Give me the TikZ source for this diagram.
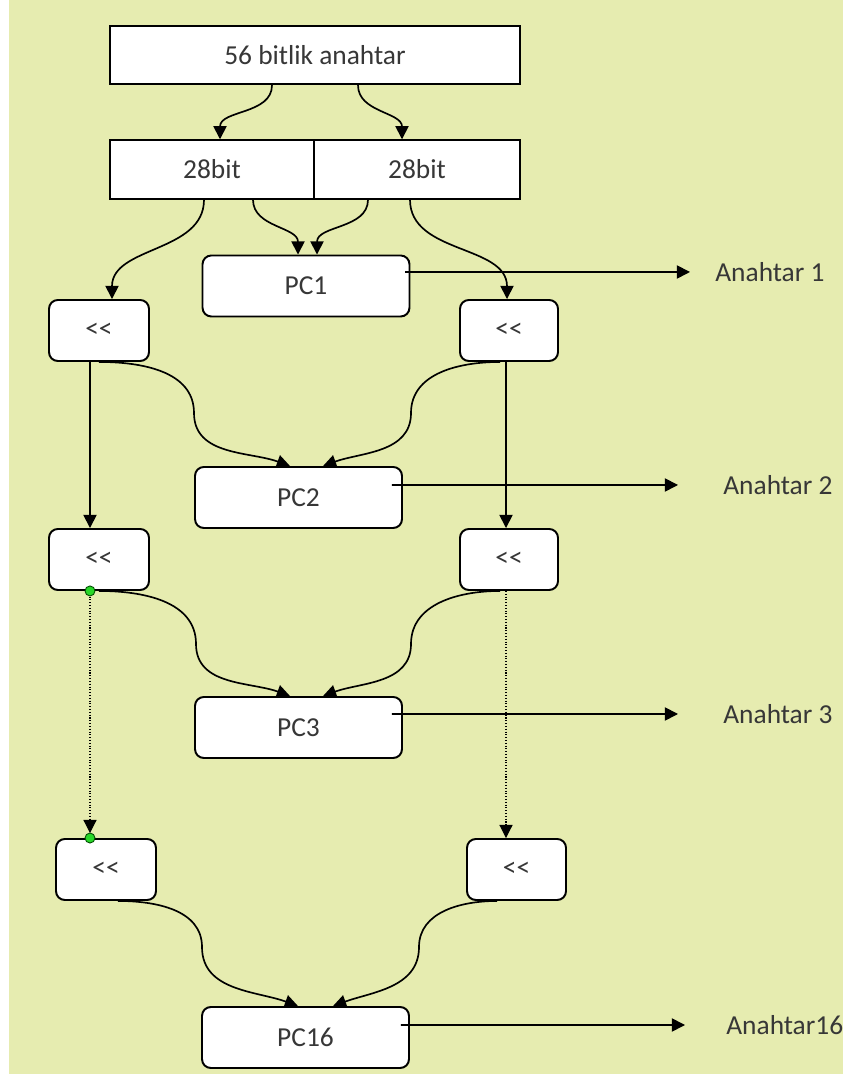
\documentclass[tikz,border=0pt]{standalone}
\usepackage{fontspec}
\setmainfont{Carlito}
\usepackage{xcolor}
\usetikzlibrary{arrows.meta,calc,positioning,shapes}
\definecolor{bgyellow}{RGB}{230,236,176}
\definecolor{txtgray}{RGB}{55,55,55}
\definecolor{dotgreen}{RGB}{40,215,40}
\tikzset{%
	keybox/.style   = {draw, rectangle, fill=white, line width=1.1pt, minimum height=1.17cm, text=txtgray, text centered},
	pcbox/.style    = {draw, rectangle, rounded corners=5pt, fill=white, line width=1.1pt, minimum width=4.14cm, minimum height=1.22cm, text=txtgray, text centered},
	shiftbox/.style = {draw, rectangle, rounded corners=5pt, fill=white, line width=1.1pt, minimum width=2cm, minimum height=1.22cm, text=txtgray, text centered},
	outlabel/.style = {anchor=west, inner sep=0pt, text=txtgray},
	arrow/.style    = {line width=0.95pt, -{Triangle[length=7.5pt,width=7.5pt]}},
	dotarrow/.style = {arrow, line width=0.6pt, densely dotted},
	greendot/.style = {circle, draw=black!70!green, fill=dotgreen, line width=0.5pt, inner sep=0pt, minimum size=0.2cm},
}
\begin{document}
\begin{tikzpicture}[x=0.02cm, y=0.02cm, font=\fontsize{15.6}{18}\selectfont]
	\useasboundingbox (0,0) rectangle (843,1074);
	\fill[bgyellow] (9,0) rectangle (843,1074);  % background

	% key and its two halves
	\node[keybox, minimum width=8.2cm] (key) at (315,1019) {56 bitlik anahtar};
	\node[keybox, minimum width=4.08cm] (halfL) at (212,904.5) {28bit};
	\node[keybox, minimum width=4.12cm] (halfR) at (417,904.5) {28bit};

	% permuted choice boxes
	\node[pcbox] (pc1) at (306,788) {PC1};
	\node[pcbox] (pc2) at (298.5,576.5) {PC2};
	\node[pcbox] (pc3) at (298.5,346.5) {PC3};
	\node[pcbox] (pc16) at (305.5,36.5) {PC16};

	% shift boxes
	\node[shiftbox] (sl1) at (99,743.5) {<{}<};
	\node[shiftbox, minimum width=1.96cm] (sr1) at (509,743.5) {<{}<};
	\node[shiftbox] (sl2) at (99,514.5) {<{}<};
	\node[shiftbox, minimum width=1.96cm] (sr2) at (509,514.5) {<{}<};
	\node[shiftbox] (sl3) at (106,204.5) {<{}<};
	\node[shiftbox, minimum width=1.98cm] (sr3) at (516.5,204.5) {<{}<};

	% round keys
	\node[outlabel] (a1) at (715,802) {Anahtar 1};
	\node[outlabel] (a2) at (723,589) {Anahtar 2};
	\node[outlabel] (a3) at (723,360) {Anahtar 3};
	\node[outlabel] (a16) at (726,49) {Anahtar16};

	% splitting the key
	\draw[arrow] ($(key.south)+(-43,0)$) to[out=-90,in=90] ($(halfL.north)+(8,0)$);
	\draw[arrow] ($(key.south)+(43,0)$) to[out=-90,in=90] ($(halfR.north)+(-15,0)$);

	% first round
	\draw[arrow] ($(halfL.south)+(-8,0)$) to[out=-90,in=90] ($(sl1.north)+(13,0)$);
	\draw[arrow] ($(halfL.south)+(41,0)$) to[out=-90,in=90] ($(pc1.north)+(-8,0)$);
	\draw[arrow] ($(halfR.south)+(-49,0)$) to[out=-90,in=90] ($(pc1.north)+(11,0)$);
	\draw[arrow] ($(halfR.south)+(-7,0)$) to[out=-90,in=90] ($(sr1.north)+(-2,0)$);
	\draw[arrow, shorten >=0.5cm] ($(pc1.east)+(-5,14)$) -- (a1.west);

	% second round
	\draw[arrow] (sl1.south) to[out=0,in=90] (194,661) to[out=-90,in=160] ($(pc2.north)+(-8.5,0)$);
	\draw[arrow] ($(sr1.south)+(-9,0)$) to[out=180,in=90] (411,661) to[out=-90,in=20] ($(pc2.north)+(24.5,0)$);
	\draw[arrow] ($(sl1.south)+(-9,0)$) -- ($(sl2.north)+(-9,0)$);
	\draw[arrow] ($(sr1.south)+(-3,0)$) -- ($(sr2.north)+(-3,0)$);
	\draw[arrow, shorten >=0.9cm] ($(pc2.east)+(-11,12.5)$) -- (a2.west);

	% third round
	\draw[arrow] (sl2.south) to[out=0,in=90] (196,430) to[out=-90,in=160] ($(pc3.north)+(-8.5,0)$);
	\draw[arrow] ($(sr2.south)+(-9,0)$) to[out=180,in=90] (411,430) to[out=-90,in=20] ($(pc3.north)+(24.5,0)$);
	\draw[arrow, shorten >=0.9cm] ($(pc3.east)+(-11,13.5)$) -- (a3.west);

	% rounds left out
	\coordinate (dL1) at ($(sl2.south)+(-9,0)$);
	\coordinate (dL2) at ($(sl3.north)+(-16,0)$);
	\draw[dotarrow, shorten >=0.1cm] (dL1) -- (dL2);
	\draw[dotarrow] ($(sr2.south)+(-3,0)$) -- ($(sr3.north)+(-10.5,0)$);
	\node[greendot] (gL1) at (dL1) {};
	\node[greendot] (gL2) at (dL2) {};

	% last round
	\draw[arrow] ($(sl3.south)+(12,0)$) to[out=0,in=90] (202,127) to[out=-90,in=160] ($(pc16.north)+(-7.5,0)$);
	\draw[arrow] ($(sr3.south)+(-19.5,0)$) to[out=180,in=90] (419,127) to[out=-90,in=20] ($(pc16.north)+(27.5,0)$);
	\draw[arrow, shorten >=0.82cm] ($(pc16.east)+(-9,12.5)$) -- (a16.west);
\end{tikzpicture}
\end{document}
